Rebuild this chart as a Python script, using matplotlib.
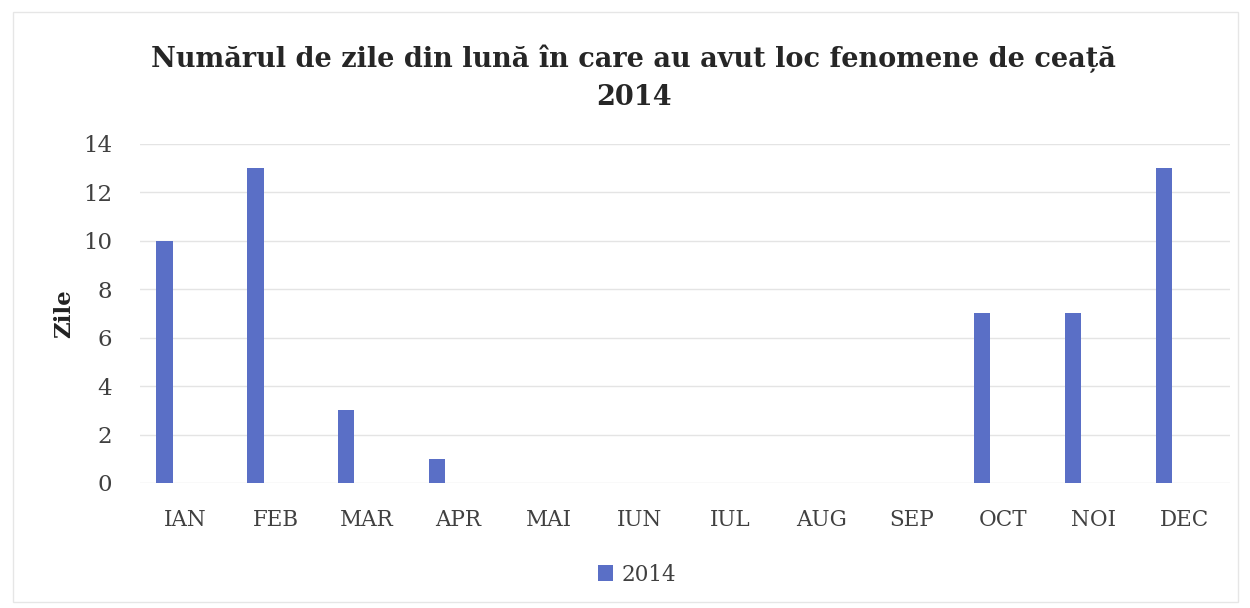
import numpy as np
import matplotlib.pyplot as plt
from matplotlib.patches import Rectangle

# Data
months = ["IAN", "FEB", "MAR", "APR", "MAI", "IUN", "IUL", "AUG", "SEP", "OCT", "NOI", "DEC"]
days_2014 = [10, 13, 3, 1, 0, 0, 0, 0, 0, 7, 7, 13]
series_name = "2014"

plt.rcParams['font.family'] = ['DejaVu Serif']

fig = plt.figure(figsize=(12.5, 6.08), dpi=100)
ax = fig.add_axes([0.112, 0.2056, 0.872, 0.5576])

x = np.arange(len(months))
bar_color = '#5a6fc6'
ax.bar(x - 0.23, days_2014, width=0.18, color=bar_color, label=series_name, zorder=3)

ax.set_xlim(-0.5, len(months) - 0.5)
ax.set_ylim(0, 14)
ax.set_yticks(range(0, 15, 2))
ax.set_xticks(x)
ax.set_xticklabels(months)
ax.tick_params(axis='x', labelsize=15.5, colors='#404040', length=0, pad=19)
ax.tick_params(axis='y', labelsize=16.5, colors='#404040', length=0, pad=20)
ax.grid(axis='y', color='#e4e4e4', linewidth=1, zorder=0)
for s in ax.spines.values():
    s.set_visible(False)

ax.set_ylabel("Zile", fontsize=16.5, fontweight='bold', color='#222222', labelpad=6)

fig.text(0.507, 0.903, "Numărul de zile din lună în care au avut loc fenomene de ceață",
         ha='center', va='center', fontsize=19.5, fontweight='bold', color='#262626')
fig.text(0.507, 0.840, "2014", ha='center', va='center', fontsize=19.5,
         fontweight='bold', color='#262626')

leg = fig.legend(loc='center', bbox_to_anchor=(0.51, 0.055), frameon=False,
                 fontsize=15.5, handlelength=0.7, handleheight=0.7, handletextpad=0.4)
for t in leg.get_texts():
    t.set_color('#404040')

# light chart border
fig.patches.append(Rectangle((0.01, 0.01), 0.98, 0.97, transform=fig.transFigure,
                             fill=False, edgecolor='#e6e6e6', linewidth=1))

fig.savefig("out.png", dpi=100)
